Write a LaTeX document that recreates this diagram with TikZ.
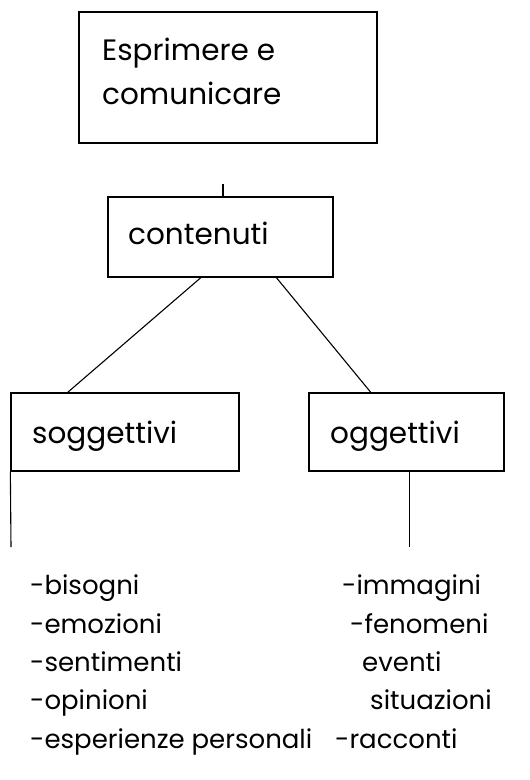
\documentclass[tikz,border=0pt]{standalone}
\usepackage{fontspec}
\setmainfont{Poppins}
\usetikzlibrary{calc}
\begin{document}
\begin{tikzpicture}[x=1pt,y=-1pt,
  box/.style={draw,line width=1.3pt,inner sep=0pt},
  txt/.style={anchor=base west,inner sep=0pt,font=\fontsize{26}{30}\selectfont},
  htxt/.style={txt,font=\fontsize{29.5}{34}\selectfont},
  conn/.style={line width=1.1pt}]
\useasboundingbox (0,0) rectangle (530,780);
% boxes
\node[box,minimum width=298pt,minimum height=131pt] (top) at (228,77.5) {};
\node[box,minimum width=225pt,minimum height=80pt] (cont) at (220.5,237) {};
\node[box,minimum width=228pt,minimum height=78pt] (sogg) at (125,432) {};
\node[box,minimum width=195pt,minimum height=78pt] (ogg) at (406.5,432) {};
% box texts
\node[htxt] (t1) at (102,60) {Esprimere e};
\node[htxt] (t2) at (102,104) {comunicare};
\node[htxt] (t3) at (128,244) {contenuti};
\node[htxt] (t4) at (32,443) {soggettivi};
\node[htxt] (t5) at (330,443) {oggettivi};
% connectors
\coordinate (tick) at (223,184);
\draw[conn] (tick) -- (tick |- cont.north);
\draw[conn] ($(cont.south west)!0.413!(cont.south east)$) -- ($(sogg.north west)!0.25!(sogg.north east)$);
\draw[conn] ($(cont.south west)!0.747!(cont.south east)$) -- ($(ogg.north west)!0.318!(ogg.north east)$);
\coordinate (lend) at (11,547);
\draw[conn] (sogg.south west) -- (lend);
\coordinate (rtop) at ($(ogg.south west)!0.513!(ogg.south east)$);
\coordinate (rend) at (rtop |- lend);
\draw[conn] (rtop) -- (rend);
% lists
\node[txt] (l1) at (30,594) {-bisogni};
\node[txt] (l2) at (30,633) {-emozioni};
\node[txt] (l3) at (30,671) {-sentimenti};
\node[txt] (l4) at (30,709) {-opinioni};
\node[txt] (l5) at (30,748) {-esperienze personali};
\node[txt] (r1) at (342,594) {-immagini};
\node[txt] (r2) at (350,633) {-fenomeni};
\node[txt] (r3) at (362,671) {eventi};
\node[txt] (r4) at (370,709) {situazioni};
\node[txt] (r5) at (335,748) {-racconti};
\end{tikzpicture}
\end{document}
